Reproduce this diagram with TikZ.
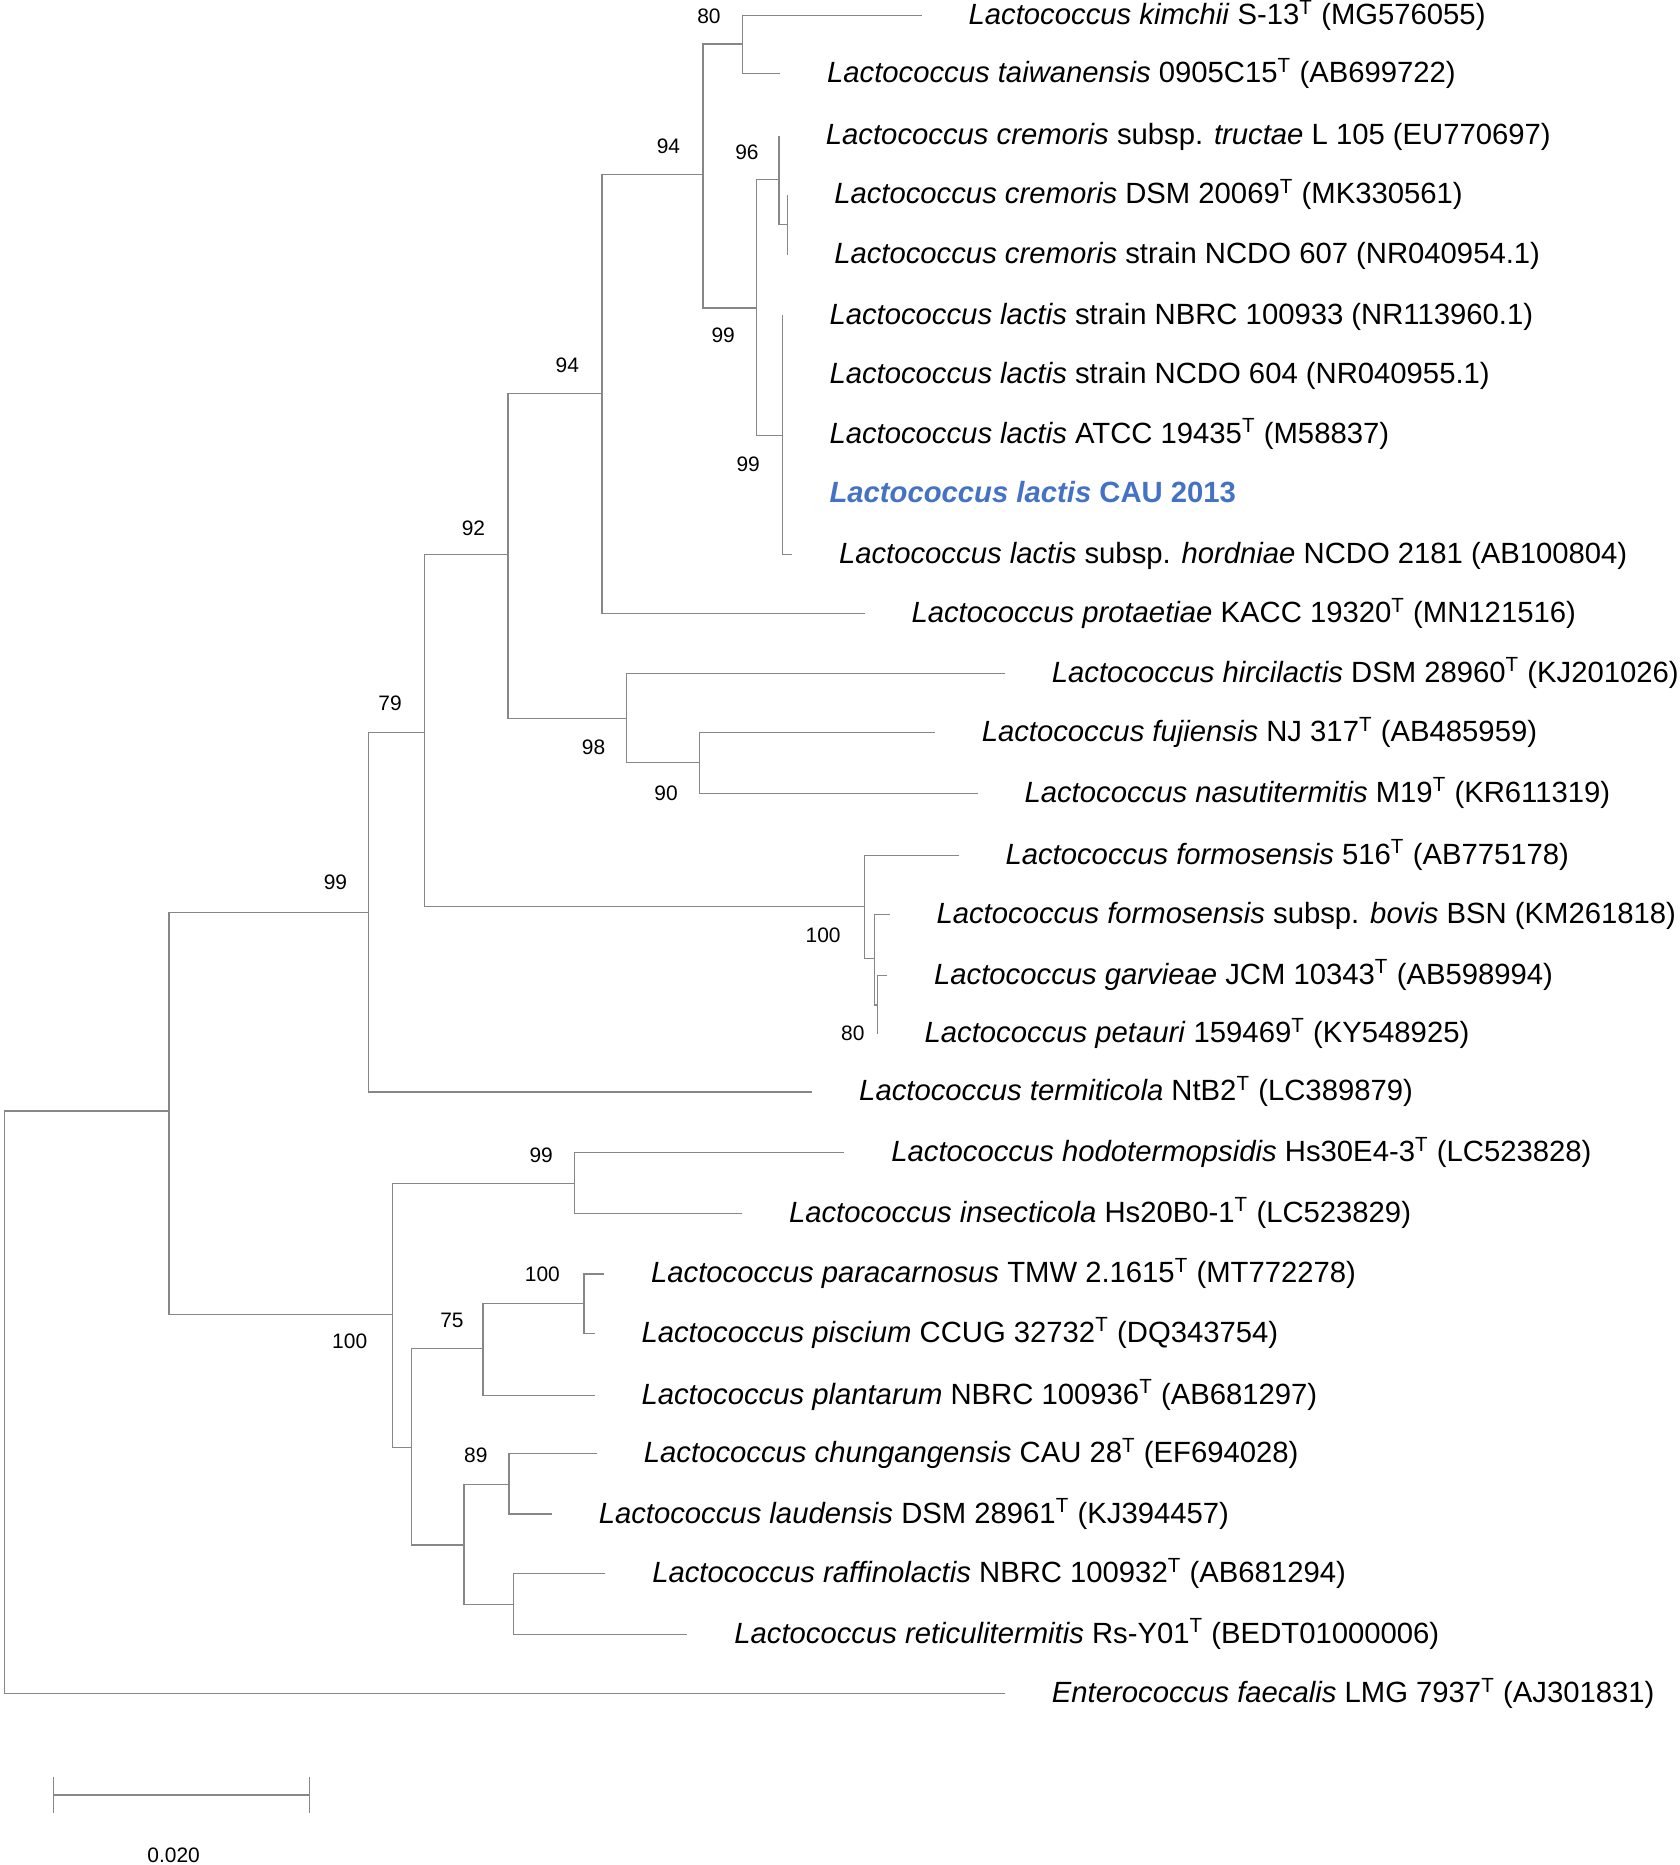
\documentclass[tikz,border=0pt]{standalone}
\usepackage{fontspec}
\setmainfont{Liberation Sans}
\definecolor{br}{RGB}{135,135,135}
\definecolor{caublue}{RGB}{68,114,196}
\begin{document}
\begin{tikzpicture}[x=0.5pt,y=-0.5pt,
  branch/.style={draw=br,line width=0.55pt},
  lab/.style={anchor=base west,inner sep=0pt,font=\fontsize{12.3}{14}\selectfont},
  boot/.style={anchor=base,inner sep=0pt,font=\fontsize{8.8}{10}\selectfont},
  sh/.style={shift={(39,7.5)}}]
\useasboundingbox (0,0) rectangle (1412,1568);
% internal nodes
\coordinate (R) at (4,1179);
\coordinate (A) at (142,934);
\coordinate (B) at (310,767);
\coordinate (C) at (357,616);
\coordinate (D) at (427,466);
\coordinate (E) at (506,331);
\coordinate (F) at (591,147);
\coordinate (G) at (624,37);
\coordinate (H) at (636,259);
\coordinate (I) at (655,151);
\coordinate (J) at (662,189);
\coordinate (K) at (658,366);
\coordinate (L) at (527,604);
\coordinate (M) at (588,641);
\coordinate (N) at (727,762);
\coordinate (O) at (735,806);
\coordinate (P) at (738,845);
\coordinate (Q) at (330,1105);
\coordinate (S) at (483,995);
\coordinate (T) at (346,1217);
\coordinate (U) at (406,1134);
\coordinate (V) at (491,1096);
\coordinate (W) at (390,1299);
\coordinate (X) at (428,1248);
\coordinate (Y) at (432,1349);
% tips
\coordinate (t1) at (775,13);
\coordinate (t2) at (656,62);
\coordinate (t3) at (655,114);
\coordinate (t4) at (662,164);
\coordinate (t5) at (662,214);
\coordinate (t6) at (658,265);
\coordinate (t7) at (658,315);
\coordinate (t8) at (658,365);
\coordinate (t9) at (658,415);
\coordinate (t10) at (666,466);
\coordinate (t11) at (727,516);
\coordinate (t12) at (845,566);
\coordinate (t13) at (786,616);
\coordinate (t14) at (822,667);
\coordinate (t15) at (806,719);
\coordinate (t16) at (748,769);
\coordinate (t17) at (746,820);
\coordinate (t18) at (738,869);
\coordinate (t19) at (683,918);
\coordinate (t20) at (710,969);
\coordinate (t21) at (624,1020);
\coordinate (t22) at (508,1071);
\coordinate (t23) at (500,1121);
\coordinate (t24) at (500,1173);
\coordinate (t25) at (502,1222);
\coordinate (t26) at (464,1273);
\coordinate (t27) at (509,1323);
\coordinate (t28) at (578,1374);
\coordinate (t29) at (845,1424);
% branches
\path[branch] (R) |- (A) (R) |- (t29);
\path[branch] (A) |- (B) (A) |- (Q);
\path[branch] (B) |- (C) (B) |- (t19);
\path[branch] (C) |- (D) (C) |- (N);
\path[branch] (D) |- (E) (D) |- (L);
\path[branch] (E) |- (F) (E) |- (t11);
\path[branch] (F) |- (G) (F) |- (H);
\path[branch] (G) |- (t1) (G) |- (t2);
\path[branch] (H) |- (I) (H) |- (K);
\path[branch] (I) |- (t3) (I) |- (J);
\path[branch] (J) |- (t4) (J) |- (t5);
\path[branch] (K) |- (t6) (K) |- (t7) (K) |- (t8) (K) |- (t9) (K) |- (t10);
\path[branch] (L) |- (t12) (L) |- (M);
\path[branch] (M) |- (t13) (M) |- (t14);
\path[branch] (N) |- (t15) (N) |- (O);
\path[branch] (O) |- (t16) (O) |- (P);
\path[branch] (P) |- (t17) (P) |- (t18);
\path[branch] (Q) |- (S) (Q) |- (T);
\path[branch] (S) |- (t20) (S) |- (t21);
\path[branch] (T) |- (U) (T) |- (W);
\path[branch] (U) |- (V) (U) |- (t24);
\path[branch] (V) |- (t22) (V) |- (t23);
\path[branch] (W) |- (X) (W) |- (Y);
\path[branch] (X) |- (t25) (X) |- (t26);
\path[branch] (Y) |- (t27) (Y) |- (t28);
% labels
\node[lab] (l1) at ([sh]t1) {\textit{Lactococcus kimchii} S-13\textsuperscript{T} (MG576055)};
\node[lab] (l2) at ([sh]t2) {\textit{Lactococcus taiwanensis} 0905C15\textsuperscript{T} (AB699722)};
\node[lab] (l3) at ([sh]t3) {\textit{Lactococcus cremoris} subsp. \textit{tructae} L 105 (EU770697)};
\node[lab] (l4) at ([sh]t4) {\textit{Lactococcus cremoris} DSM 20069\textsuperscript{T} (MK330561)};
\node[lab] (l5) at ([sh]t5) {\textit{Lactococcus cremoris} strain NCDO 607 (NR040954.1)};
\node[lab] (l6) at ([sh]t6) {\textit{Lactococcus lactis} strain NBRC 100933 (NR113960.1)};
\node[lab] (l7) at ([sh]t7) {\textit{Lactococcus lactis} strain NCDO 604 (NR040955.1)};
\node[lab] (l8) at ([sh]t8) {\textit{Lactococcus lactis} ATCC 19435\textsuperscript{T} (M58837)};
\node[lab,text=caublue,font=\fontsize{12.3}{14}\selectfont\bfseries] (l9) at ([sh]t9) {\textit{Lactococcus lactis} CAU 2013};
\node[lab] (l10) at ([sh]t10) {\textit{Lactococcus lactis} subsp. \textit{hordniae} NCDO 2181 (AB100804)};
\node[lab] (l11) at ([sh]t11) {\textit{Lactococcus protaetiae} KACC 19320\textsuperscript{T} (MN121516)};
\node[lab] (l12) at ([sh]t12) {\textit{Lactococcus hircilactis} DSM 28960\textsuperscript{T} (KJ201026)};
\node[lab] (l13) at ([sh]t13) {\textit{Lactococcus fujiensis} NJ 317\textsuperscript{T} (AB485959)};
\node[lab] (l14) at ([sh]t14) {\textit{Lactococcus nasutitermitis} M19\textsuperscript{T} (KR611319)};
\node[lab] (l15) at ([sh]t15) {\textit{Lactococcus formosensis} 516\textsuperscript{T} (AB775178)};
\node[lab] (l16) at ([sh]t16) {\textit{Lactococcus formosensis} subsp. \textit{bovis} BSN (KM261818)};
\node[lab] (l17) at ([sh]t17) {\textit{Lactococcus garvieae} JCM 10343\textsuperscript{T} (AB598994)};
\node[lab] (l18) at ([sh]t18) {\textit{Lactococcus petauri} 159469\textsuperscript{T} (KY548925)};
\node[lab] (l19) at ([sh]t19) {\textit{Lactococcus termiticola} NtB2\textsuperscript{T} (LC389879)};
\node[lab] (l20) at ([sh]t20) {\textit{Lactococcus hodotermopsidis} Hs30E4-3\textsuperscript{T} (LC523828)};
\node[lab] (l21) at ([sh]t21) {\textit{Lactococcus insecticola} Hs20B0-1\textsuperscript{T} (LC523829)};
\node[lab] (l22) at ([sh]t22) {\textit{Lactococcus paracarnosus} TMW 2.1615\textsuperscript{T} (MT772278)};
\node[lab] (l23) at ([sh]t23) {\textit{Lactococcus piscium} CCUG 32732\textsuperscript{T} (DQ343754)};
\node[lab] (l24) at ([sh]t24) {\textit{Lactococcus plantarum} NBRC 100936\textsuperscript{T} (AB681297)};
\node[lab] (l25) at ([sh]t25) {\textit{Lactococcus chungangensis} CAU 28\textsuperscript{T} (EF694028)};
\node[lab] (l26) at ([sh]t26) {\textit{Lactococcus laudensis} DSM 28961\textsuperscript{T} (KJ394457)};
\node[lab] (l27) at ([sh]t27) {\textit{Lactococcus raffinolactis} NBRC 100932\textsuperscript{T} (AB681294)};
\node[lab] (l28) at ([sh]t28) {\textit{Lactococcus reticulitermitis} Rs-Y01\textsuperscript{T} (BEDT01000006)};
\node[lab] (l29) at ([sh]t29) {\textit{Enterococcus faecalis} LMG 7937\textsuperscript{T} (AJ301831)};
% bootstrap values
\node[boot] (bG) at (596,20) {80};
\node[boot] (bF) at (562,129) {94};
\node[boot] (bI) at (628,134) {96};
\node[boot] (bE) at (477,313) {94};
\node[boot] (bH) at (608,288) {99};
\node[boot] (bK) at (629,396) {99};
\node[boot] (bD) at (398,450) {92};
\node[boot] (bC) at (328,597) {79};
\node[boot] (bB) at (282,748) {99};
\node[boot] (bL) at (499,634) {98};
\node[boot] (bM) at (560,673) {90};
\node[boot] (bN) at (692,792) {100};
\node[boot] (bP) at (717,875) {80};
\node[boot] (bS) at (455,977) {99};
\node[boot] (bQ) at (294,1134) {100};
\node[boot] (bV) at (456,1077) {100};
\node[boot] (bU) at (380,1116) {75};
\node[boot] (bX) at (400,1230) {89};
% scale bar
\coordinate (sb1) at (45,1509);
\coordinate (sb2) at (260,1509);
\path[branch] (sb1) -- (sb2);
\path[branch] ([yshift=-7.5]sb1) -- ([yshift=7.5]sb1);
\path[branch] ([yshift=-7.5]sb2) -- ([yshift=7.5]sb2);
\node[boot] (sbl) at (146,1566) {0.020};
\end{tikzpicture}
\end{document}
